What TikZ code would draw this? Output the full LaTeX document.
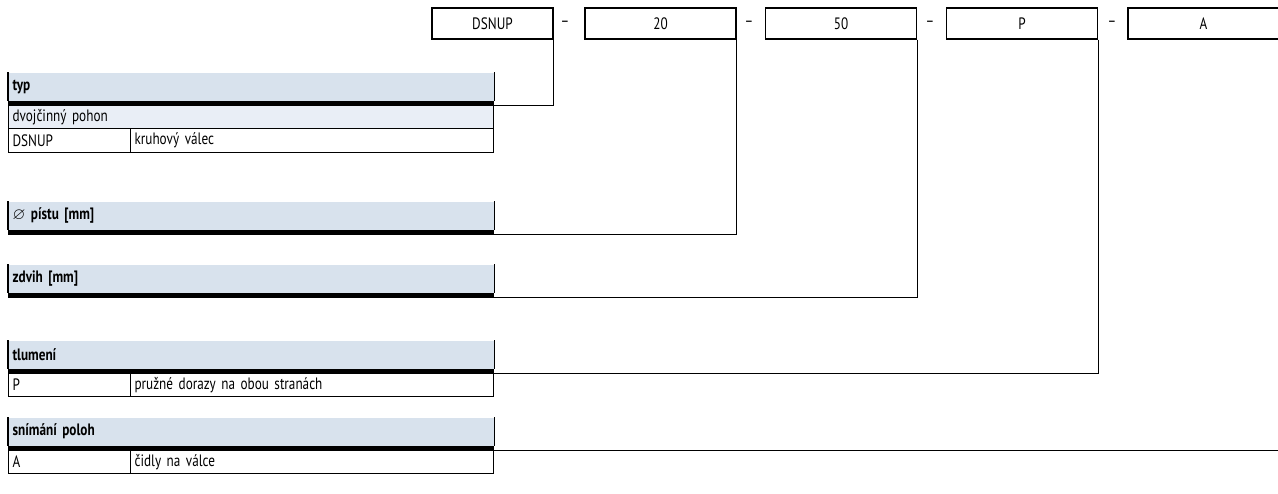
\documentclass[tikz,border=0pt]{standalone}
\usepackage{amssymb}
\usepackage{fontspec}
\setmainfont[FakeStretch=0.8]{PT Sans}
\definecolor{hlavamodra}{RGB}{216,226,237}
\definecolor{radekmodry}{RGB}{233,238,246}
\begin{document}
\begin{tikzpicture}[x=1pt,y=-1pt,line width=1.2pt,font=\fontsize{16.5}{18}\selectfont,
  kod/.style={draw, minimum width=151pt, minimum height=31pt, inner sep=0pt},
  pomlcka/.style={inner sep=0pt},
  hlava/.style={fill=hlavamodra, anchor=north west, minimum height=28pt, text width=477pt, inner xsep=4pt, inner ysep=0pt, align=left},
  radek/.style={draw, anchor=north west, minimum height=23.5pt, inner xsep=4pt, inner ysep=0pt, text width=#1, align=left},
  lista/.style={line width=4.5pt}]
  \useasboundingbox (0,0) rectangle (1278,493);
  \clip (0,0) rectangle (1278,493);

  % Kod objednavky
  \node[kod, minimum width=121pt] (kDSNUP) at (492.5,23.5) {DSNUP};
  \node[pomlcka] (p1) at (565,23.5) {–};
  \node[kod] (k20) at (660.5,23.5) {20};
  \node[pomlcka] (p2) at (749,23.5) {–};
  \node[kod] (k50) at (841,23.5) {50};
  \node[pomlcka] (p3) at (930,23.5) {–};
  \node[kod] (kP) at (1022,23.5) {P};
  \node[pomlcka] (p4) at (1112,23.5) {–};
  \node[kod] (kA) at (1203.5,23.5) {A};

  % Tabulky
  \node[hlava] (typ) at (8,72) {\textbf{typ}};
  \node[radek=477pt, fill=radekmodry] (dvoj) at (8,104.5) {dvojčinný pohon};
  \node[radek=114pt] (typK) at (8,128) {DSNUP};
  \node[radek=355pt] (typV) at (130,128) {kruhový válec};

  \node[hlava] (piston) at (8,201) {$\varnothing$ \textbf{pístu [mm]}};
  \node[hlava] (zdvih) at (8,264) {\textbf{zdvih [mm]}};

  \node[hlava] (tlum) at (8,340) {\textbf{tlumení}};
  \node[radek=114pt] (tlumK) at (8,372.5) {P};
  \node[radek=355pt] (tlumV) at (130,372.5) {pružné dorazy na obou stranách};

  \node[hlava] (snim) at (8,417) {\textbf{snímání poloh}};
  \node[radek=114pt] (snimK) at (8,449.5) {A};
  \node[radek=355pt] (snimV) at (130,449.5) {čidly na válce};

  \foreach \h in {typ,piston,zdvih,tlum,snim}{
    \draw (\h.north west) -- (\h.south west);
    \draw (\h.north east) -- (\h.south east);
    \draw[lista] ([yshift=-2.25pt]\h.south west) -- ([yshift=-2.25pt]\h.south east);
  }

  % Spojnice
  \draw (kDSNUP.south east) |- ([yshift=-3.9pt]typ.south east);
  \draw (k20.south east) |- ([yshift=-3.9pt]piston.south east);
  \draw (k50.south east) |- ([yshift=-3.9pt]zdvih.south east);
  \draw (kP.south east) |- ([yshift=-3.9pt]tlum.south east);
  \draw (kA.south east) |- ([yshift=-3.9pt]snim.south east);
\end{tikzpicture}
\end{document}
